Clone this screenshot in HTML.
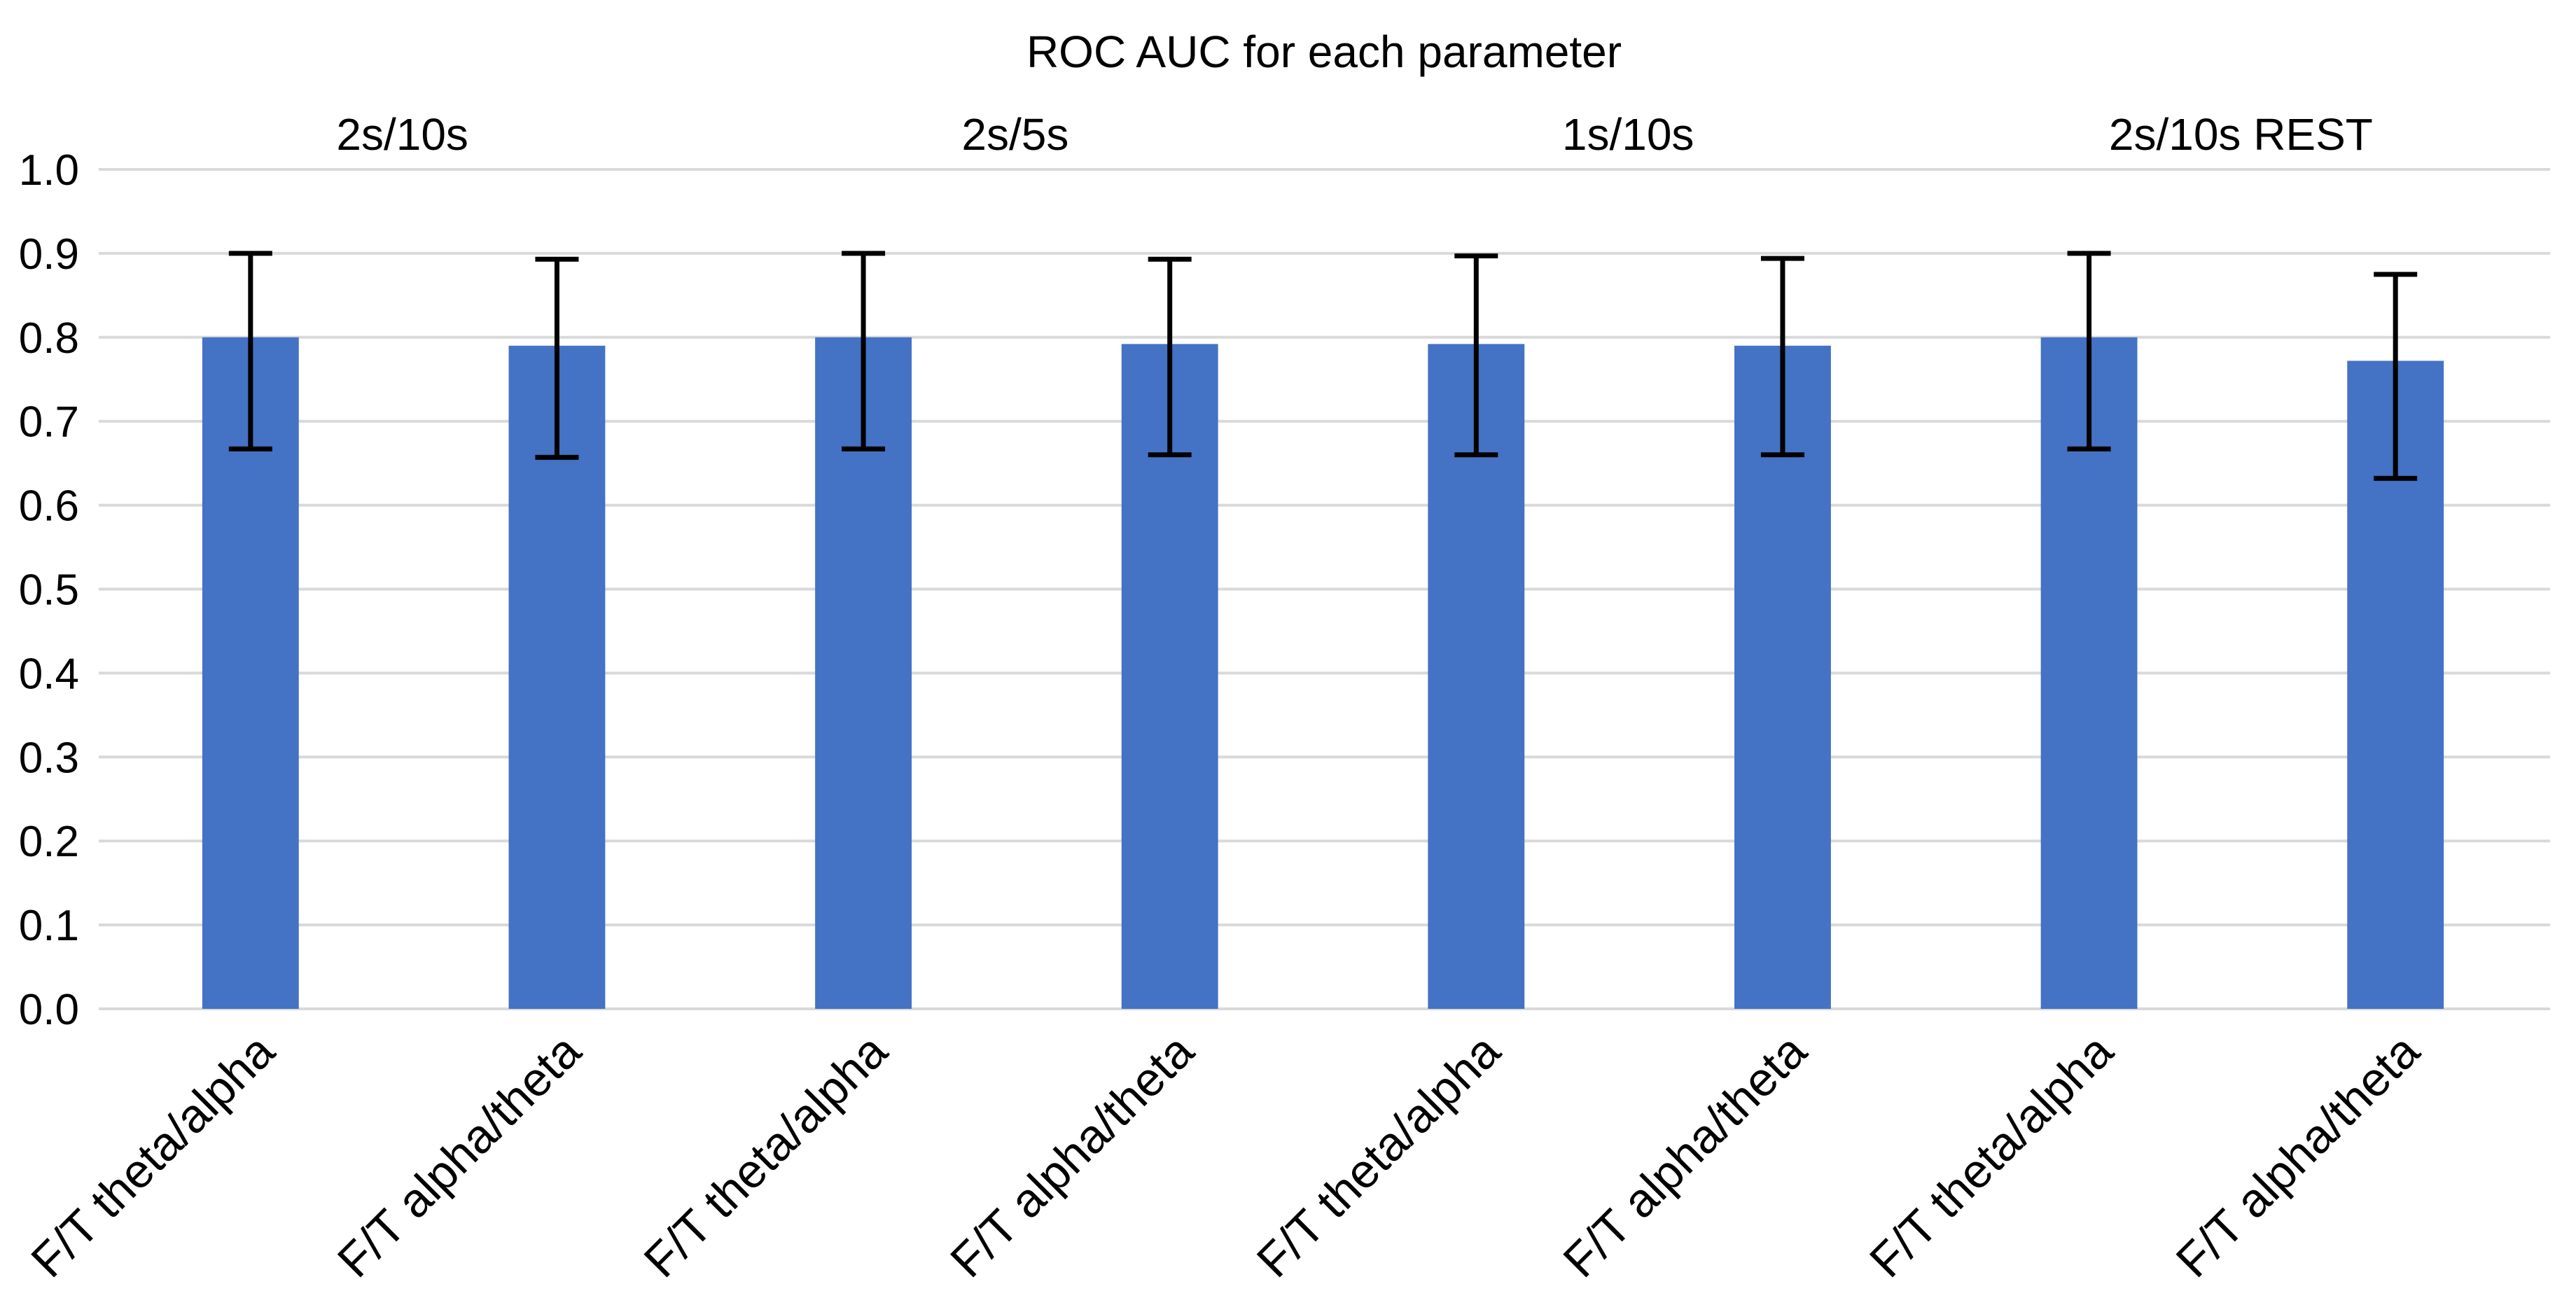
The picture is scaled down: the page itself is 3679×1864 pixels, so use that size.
<!DOCTYPE html>
<html><head><meta charset="utf-8"><style>
html,body{margin:0;padding:0;background:#fff;}
svg{display:block;font-family:"Liberation Sans",Arial,sans-serif;}
</style></head><body>
<svg id="chart" width="3679" height="1864" viewBox="0 0 3679 1864" xmlns="http://www.w3.org/2000/svg">
<rect width="3679" height="1864" fill="#fff"/>
<text x="1891" y="96" font-size="64" text-anchor="middle" fill="#000">ROC AUC for each parameter</text>
<g id="grid"></g><g id="bars"></g><g id="errs"></g><g id="labels"></g>
</svg>
<script>
const categories = ["F/T theta/alpha","F/T alpha/theta","F/T theta/alpha","F/T alpha/theta","F/T theta/alpha","F/T alpha/theta","F/T theta/alpha","F/T alpha/theta"];
const values = [0.80,0.79,0.80,0.792,0.792,0.79,0.80,0.772];
const errHigh = [0.90,0.893,0.90,0.893,0.897,0.894,0.90,0.875];
const errLow = [0.667,0.657,0.667,0.66,0.66,0.66,0.667,0.632];
const groups = ["2s/10s","2s/5s","1s/10s","2s/10s REST"];
const yTicks = [0,0.1,0.2,0.3,0.4,0.5,0.6,0.7,0.8,0.9,1.0];

const NS="http://www.w3.org/2000/svg";
const X0=141, X1=3642, Y0=1441, Y1=242;
const band=(X1-X0)/categories.length;
const y=v=>Y0-(v/1.0)*(Y0-Y1);
const xc=i=>X0+band*(i+0.5);
function mk(tag,attrs,parent){const e=document.createElementNS(NS,tag);for(const k in attrs)e.setAttribute(k,attrs[k]);document.getElementById(parent).appendChild(e);return e;}

yTicks.forEach(t=>{
  const g=mk('line',{x1:X0,x2:X1,y1:y(t),y2:y(t),stroke:'#d9d9d9','stroke-width':4},'grid');
  
  
  const l=mk('text',{x:113,y:y(t)+22,'font-size':62,'text-anchor':'end',fill:'#000'},'labels');
  l.textContent=t.toFixed(1);
  
  
});
const bw=band*0.315;
categories.forEach((c,i)=>{
  const b=mk('rect',{x:xc(i)-bw/2-2,y:y(values[i]),width:bw,height:Y0-y(values[i]),fill:'#4472c4'},'bars');
  
  
  const eg=mk('path',{d:`M${xc(i)-2},${y(errHigh[i])}V${y(errLow[i])}M${xc(i)-33},${y(errHigh[i])}h62M${xc(i)-33},${y(errLow[i])}h62`,stroke:'#000','stroke-width':7,fill:'none'},'errs');
  
  
  const ax=xc(i)+36, ay=1506;
  const t=mk('text',{x:ax,y:ay,'font-size':68,'text-anchor':'end',fill:'#000',transform:`rotate(-45 ${ax} ${ay})`},'labels');
  t.textContent=c;
  
  
});
groups.forEach((g,j)=>{
  const t=mk('text',{x:X0+band*(2*j+1)-4,y:214,'font-size':64,'text-anchor':'middle',fill:'#000'},'labels');
  t.textContent=g;
  
  
});
</script>
</body></html>
